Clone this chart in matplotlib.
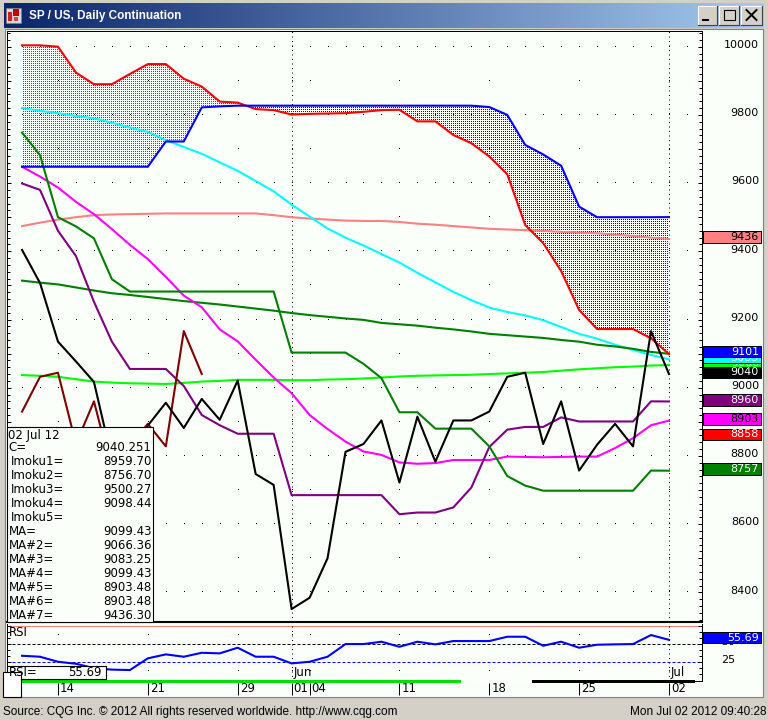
import numpy as np
import matplotlib
matplotlib.use("Agg")
import matplotlib.pyplot as plt
from matplotlib.patches import Rectangle
from matplotlib.ticker import MultipleLocator
import matplotlib.transforms as mtrans

plt.rcParams['font.family'] = ['DejaVu Sans']

# ---------------- data ----------------
# trading-day index: 0 = 14 May 2012 ... 34 = 02 Jul 2012
day_idx = list(range(-2, 35))
week_pos = [0, 5, 10, 13, 14, 19, 24, 29, 34]
week_labels = ["14", "21", "29", "01", "04", "11", "18", "25", "02"]
month_pos = [13, 34]
month_labels = ["Jun", "Jul"]

close = [9404, 9307, 9135, 9077, 9017, 8790, 8770, 8889, 8956, 8882,
         8967, 8906, 9021, 8747, 8715, 8351, 8384, 8500, 8812, 8835,
         8904, 8722, 8915, 8783, 8904, 8904, 8930, 9032, 9044, 8835,
         8960, 8757, 8833, 8894, 8828, 9166, 9040.251]
tenkan = [9599, 9580, 9460, 9386, 9252, 9135, 9055, 9055, 9055, 9005,
          8920, 8890, 8865, 8865, 8865, 8685, 8685, 8685, 8685, 8685,
          8685, 8629, 8634, 8634, 8649, 8707, 8826, 8877, 8885, 8885,
          8913, 8901, 8901, 8901, 8901, 8960, 8959.70]
kijun = [9748, 9682, 9500, 9473, 9438, 9318, 9282, 9282, 9282, 9282,
         9282, 9282, 9282, 9282, 9282, 9103, 9103, 9103, 9103, 9070,
         9028, 8928, 8928, 8880, 8880, 8880, 8828, 8741, 8713, 8698,
         8698, 8698, 8698, 8698, 8698, 8757, 8756.70]
senkou_a = [9648, 9648, 9648, 9648, 9648, 9648, 9648, 9648, 9722, 9722,
            9822, 9825, 9827, 9827, 9827, 9827, 9827, 9827, 9827, 9827,
            9827, 9827, 9827, 9827, 9827, 9827, 9823, 9800, 9712, 9684,
            9651, 9531, 9500, 9500, 9500, 9500, 9500.27]
senkou_b = [10004, 10004, 10000, 9924, 9890, 9890, 9920, 9949, 9949, 9906,
            9883, 9839, 9836, 9817, 9814, 9801, 9803, 9804, 9805, 9809,
            9814, 9815, 9781, 9781, 9741, 9717, 9678, 9626, 9477, 9424,
            9342, 9228, 9172, 9172, 9172, 9145, 9098.44]
ma = [9314, 9308, 9303, 9294, 9285, 9277, 9272, 9266, 9260, 9254,
      9249, 9244, 9238, 9232, 9226, 9219, 9213, 9208, 9203, 9199,
      9190, 9186, 9182, 9176, 9171, 9165, 9158, 9154, 9150, 9146,
      9140, 9135, 9126, 9121, 9114, 9105, 9099.43]
ma2 = [9037, 9035, 9032, 9025, 9018, 9015, 9013, 9012, 9011, 9014,
       9018, 9020, 9023, 9023, 9023, 9022, 9022, 9024, 9025, 9027,
       9030, 9033, 9035, 9036, 9037, 9038, 9040, 9042, 9044, 9046,
       9050, 9054, 9057, 9060, 9062, 9065, 9066.36]
ma3 = [9820, 9812, 9805, 9797, 9790, 9777, 9763, 9750, 9726, 9706,
       9686, 9661, 9636, 9606, 9576, 9537, 9502, 9467, 9440, 9417,
       9392, 9367, 9337, 9309, 9281, 9257, 9235, 9222, 9212, 9198,
       9178, 9158, 9144, 9126, 9111, 9096, 9083.25]
ma5 = [9648, 9619, 9587, 9545, 9509, 9465, 9419, 9377, 9325, 9270,
       9236, 9171, 9136, 9082, 9030, 8984, 8920, 8879, 8842, 8813,
       8803, 8781, 8777, 8779, 8788, 8788, 8788, 8798, 8797, 8796,
       8797, 8798, 8798, 8823, 8852, 8890, 8903.48]
ma7 = [9474, 9484, 9493, 9500, 9506, 9508, 9509, 9510, 9511, 9511,
       9511, 9511, 9511, 9511, 9506, 9500, 9496, 9493, 9490, 9489,
       9489, 9486, 9481, 9478, 9474, 9470, 9466, 9464, 9462, 9460,
       9457, 9455, 9453, 9449, 9445, 9440, 9436.30]
rsi = [33.9, 32.6, 25.7, 23.0, 17.0, 15.0, 14.4, 30.4, 35.8, 32.6,
       38.0, 37.2, 44.9, 32.6, 32.6, 23.5, 25.7, 32.6, 49.9, 49.9,
       53.1, 46.2, 53.1, 49.5, 54.0, 54.0, 54.0, 59.9, 59.9, 47.6,
       53.1, 44.9, 49.0, 49.5, 49.9, 62.2, 55.69]

price_levels = list(range(8400, 10001, 200))
half_levels = list(range(8500, 10000, 200))

box_vals = [9436.30, 9066.36, 9083.25, 9101.0, 9040.251, 8959.70, 8903.48, 8858.0, 8756.70]
box_text = ['9436', '9066', '9083', '9101', '9040', '8960', '8903', '8858', '8757']
box_face = ['#FF8080', '#00FF00', '#00FFFF', '#0000FF', '#000000', '#800080', '#FF00FF', '#FF0000', '#008000']
box_tcol = ['black', 'white', 'white', 'white', 'white', 'white', 'black', 'white', 'white']

legend_names = ['C=', 'Imoku1=', 'Imoku2=', 'Imoku3=', 'Imoku4=', 'Imoku5=',
                'MA=', 'MA#2=', 'MA#3=', 'MA#4=', 'MA#5=', 'MA#6=', 'MA#7=']
legend_vals = ['9040.251', '8959.70', '8756.70', '9500.27', '9098.44', '',
               '9099.43', '9066.36', '9083.25', '9099.43', '8903.48', '8903.48', '9436.30']

# ---------------- figure ----------------
BG = '#FAFFFA'
FS = 8.5     # legend / date text
FA = 8       # right-axis text
fig = plt.figure(figsize=(7.68, 7.2), dpi=100)
fig.patch.set_facecolor('#D4D0C8')


def px_axes(x0, y0, x1, y1, z):
    a = fig.add_axes([x0 / 768, 1 - y1 / 720, (x1 - x0) / 768, (y1 - y0) / 720])
    a.set_zorder(z)
    return a


# ---------- window decoration ----------
deco = px_axes(0, 0, 768, 720, 0)
deco.axis('off')
grad = np.linspace(0, 1, 256)
c0 = np.array([10, 36, 106]) / 255
c1 = np.array([166, 202, 240]) / 255
gimg = (c0[None, :] * (1 - grad[:, None]) + c1[None, :] * grad[:, None])[None, :, :]
deco.imshow(gimg, extent=(4, 764, 28, 3), aspect='auto', interpolation='bilinear', zorder=1)
deco.set_xlim(0, 768)
deco.set_ylim(720, 0)
deco.text(29, 15.5, 'SP / US, Daily Continuation', color='white', fontsize=8.5,
          fontweight='bold', family='Liberation Sans', va='center', ha='left', zorder=3)
# icon
deco.add_patch(Rectangle((6, 8), 15, 15, facecolor='#D8D8D8', edgecolor='#808080', lw=0.5, zorder=2))
deco.add_patch(Rectangle((8, 12), 4, 9, facecolor='#D02020', edgecolor='none', zorder=3))
deco.add_patch(Rectangle((13, 9), 6, 7, facecolor='#C00000', edgecolor='none', zorder=3))
deco.add_patch(Rectangle((14, 17), 4, 4, facecolor='#E04040', edgecolor='none', zorder=3))
# buttons
for bx0, bx1 in [(698, 717), (719, 739), (741, 762)]:
    deco.add_patch(Rectangle((bx0, 6), bx1 - bx0, 19, facecolor='#D4D0C8', edgecolor='none', zorder=2))
    deco.plot([bx0, bx0, bx1], [25, 6, 6], color='white', lw=0.8, zorder=3)
    deco.plot([bx0, bx1, bx1], [25, 25, 6], color='#404040', lw=0.8, zorder=3)
deco.add_patch(Rectangle((702, 18.5), 7, 2, facecolor='black', edgecolor='none', zorder=4))
deco.add_patch(Rectangle((723.5, 9.5), 11, 10, facecolor='none', edgecolor='black', lw=0.8, zorder=4))
deco.add_patch(Rectangle((723.5, 9.5), 11, 1.6, facecolor='black', edgecolor='none', zorder=4))
deco.plot([746.5, 756.5], [10, 20], color='black', lw=1.4, zorder=4)
deco.plot([746.5, 756.5], [20, 10], color='black', lw=1.4, zorder=4)
# content area
deco.add_patch(Rectangle((5, 29), 758, 668, facecolor=BG, edgecolor='#808080', lw=0.8, zorder=1))
deco.text(3, 712, 'Source: CQG Inc. \u00a9 2012 All rights reserved worldwide. http://www.cqg.com',
          fontsize=8.5, family='Liberation Sans', va='center', ha='left')
deco.text(766, 712, 'Mon Jul 02 2012 09:40:28', fontsize=8.5, family='Liberation Sans',
          va='center', ha='right')

# ---------- price pane ----------
XL = (-2.838, 35.838)
YL = (8313.0, 10046.0)
ax = px_axes(7, 31, 702, 622, 2)
ax.set_facecolor(BG)

# Ichimoku cloud, stippled
nx, ny = 695, 591
xs = XL[0] + (np.arange(nx) + 0.5) * (XL[1] - XL[0]) / nx
ys = YL[1] - (np.arange(ny) + 0.5) * (YL[1] - YL[0]) / ny
sa = np.interp(xs, day_idx, senkou_a)
sb = np.interp(xs, day_idx, senkou_b)
inside = (xs >= day_idx[0]) & (xs <= day_idx[-1])
hi = np.maximum(sa, sb)
lo = np.minimum(sa, sb)
band = inside[None, :] & (ys[:, None] <= hi[None, :]) & (ys[:, None] >= lo[None, :])
dots = (np.arange(ny)[:, None] % 2 == 0) & (np.arange(nx)[None, :] % 2 == 0)
img = np.zeros((ny, nx, 4))
img[band & dots & (sb > sa)[None, :]] = (1, 0, 0, 1)
img[band & dots & (sa >= sb)[None, :]] = (0, 0, 1, 1)
ax.imshow(img, extent=(XL[0], XL[1], YL[0], YL[1]), origin='upper',
          interpolation='nearest', aspect='auto', zorder=1)

# dotted grid
gx, gy = np.meshgrid(list(range(-2, 36)), price_levels)
ax.plot(gx.ravel(), gy.ravel(), ',', color='black', zorder=1.5)
gx, gy = np.meshgrid(week_pos, half_levels)
ax.plot(gx.ravel(), gy.ravel(), ',', color='black', zorder=1.5)
for p in month_pos:
    ax.axvline(p, color='black', lw=0.72, ls=(0, (1, 3.5)), zorder=1.5)

LW = 1.5
ax.plot(day_idx, ma7, color='#FF8080', lw=LW, zorder=3)
ax.plot(day_idx, ma3, color='#00FFFF', lw=LW, zorder=3)
ax.plot(day_idx, ma, color='#008000', lw=LW, zorder=3)
ax.plot(day_idx, ma2, color='#00FF00', lw=LW, zorder=3)
ax.plot(day_idx, ma5, color='#FF00FF', lw=LW, zorder=3)
ax.plot(day_idx, tenkan, color='#800080', lw=LW, zorder=3)
ax.plot(day_idx, kijun, color='#008000', lw=LW, zorder=3)
ax.plot(day_idx, senkou_b, color='#FF0000', lw=LW, zorder=3)
ax.plot(day_idx, senkou_a, color='#0000FF', lw=LW, zorder=3)
n_lag = len(close) - 26
ax.plot(day_idx[:n_lag], close[26:], color='#800000', lw=LW, zorder=3)
ax.plot(day_idx, close, color='black', lw=LW, zorder=4)

ax.set_xlim(*XL)
ax.set_ylim(*YL)
ax.set_xticks([])
ax.yaxis.set_major_locator(MultipleLocator(100))
ax.yaxis.set_minor_locator(MultipleLocator(20))
ax.tick_params(axis='y', which='both', direction='in', left=True, right=True,
               labelleft=False, labelright=False, color='black', width=0.72)
ax.tick_params(axis='y', which='major', length=3.2)
ax.tick_params(axis='y', which='minor', length=2.0)
for s in ax.spines.values():
    s.set_color('black')
    s.set_linewidth(0.72)
ax.spines['bottom'].set_linewidth(1.5)

ytr = mtrans.offset_copy(ax.get_yaxis_transform(), fig=fig, x=0, y=1.7, units='dots')
for lv in price_levels:
    ax.text(1.082, lv, f'{lv}', transform=ytr, ha='right', va='center', fontsize=FA, clip_on=False)
for k, (v, t, fc, tc) in enumerate(zip(box_vals, box_text, box_face, box_tcol)):
    ax.add_patch(Rectangle((1.0014, v - 16.9), 0.0842, 33.7, transform=ytr, facecolor=fc,
                           edgecolor='black', lw=0.72, clip_on=False, zorder=10 + 2 * k))
    ax.text(1.082, v, t, transform=ytr, color=tc, ha='right', va='center', fontsize=FA,
            clip_on=False, zorder=11 + 2 * k)

# ---------- RSI pane ----------
ar = px_axes(7, 624, 702, 681, 2)
ar.set_facecolor(BG)
ar.set_xlim(*XL)
ar.set_ylim(-0.55, 77.3)
ar.axhline(75, color='#FF0000', lw=0.72, ls=(0, (1, 1)), zorder=1)
ar.axhline(50, color='black', lw=0.72, ls=(0, (3, 2)), zorder=1)
ar.axhline(25, color='#0000FF', lw=0.72, ls=(0, (3, 2)), zorder=1)
gx, gy = np.meshgrid(week_pos, [12.5, 62.5])
ar.plot(gx.ravel(), gy.ravel(), ',', color='black', zorder=1)
for p in month_pos:
    ar.axvline(p, color='black', lw=0.72, ls=(0, (1, 3.5)), zorder=1)
ar.plot(day_idx, rsi, color='#0000FF', lw=LW, zorder=3)
ar.set_xticks([])
ar.yaxis.set_major_locator(MultipleLocator(25))
ar.yaxis.set_minor_locator(MultipleLocator(25 / 3))
ar.tick_params(axis='y', which='both', direction='in', left=True, right=True,
               labelleft=False, labelright=False, color='black', width=0.72)
ar.tick_params(axis='y', which='major', length=3.2)
ar.tick_params(axis='y', which='minor', length=2.0)
for s in ar.spines.values():
    s.set_color('black')
    s.set_linewidth(0.72)
ar.spines['top'].set_visible(False)
mtr = mtrans.offset_copy(ar.transData, fig=fig, x=2, y=0, units='dots')
for p, lbl in zip(month_pos, month_labels):
    ar.text(p, 11.7, lbl, transform=mtr, ha='left', va='center', fontsize=FS)
rtr = mtrans.offset_copy(ar.get_yaxis_transform(), fig=fig, x=0, y=2, units='dots')
for lv in [25, 50]:
    ar.text(1.0475, lv, f'{lv}', transform=rtr, ha='right', va='center', fontsize=FA, clip_on=False)
ar.add_patch(Rectangle((1.0014, rsi[-1] - 7.5), 0.0842, 15, transform=rtr, facecolor='#0000FF',
                       edgecolor='black', lw=0.72, clip_on=False, zorder=10))
ar.text(1.082, rsi[-1], f'{rsi[-1]:.2f}', transform=rtr, color='white', ha='right',
        va='center', fontsize=FA, clip_on=False, zorder=11)

# ---------- date row ----------
ad = px_axes(7, 682, 702, 696, 2)
ad.set_xlim(*XL)
ad.set_ylim(0, 1)
ad.axis('off')
ad.vlines(week_pos, 0.05, 0.95, color='black', lw=0.72)
dtr = mtrans.offset_copy(ad.transData, fig=fig, x=2, y=0, units='dots')
for p, lbl in zip(week_pos, week_labels):
    ad.text(p, 0.5, lbl, transform=dtr, ha='left', va='center', fontsize=FS)

# ---------- overlays ----------
top = px_axes(0, 0, 768, 720, 5)
top.set_xlim(0, 768)
top.set_ylim(720, 0)
top.axis('off')
top.add_patch(Rectangle((20.6, 679.5), 440.2, 3, facecolor='#00E000', edgecolor='none'))
top.add_patch(Rectangle((460.8, 679.5), 71.2, 3, facecolor='white', edgecolor='none'))
top.add_patch(Rectangle((532, 679.5), 163, 3, facecolor='black', edgecolor='none'))
# legend box
top.add_patch(Rectangle((7, 427), 146, 195, facecolor=BG, edgecolor='black', lw=0.8))
top.text(8.5, 435, '02 Jul 12', fontsize=FS, ha='left', va='center')
row_y = [447.7] + [461.7 + 14 * k for k in range(len(legend_names) - 1)]
for nm, vl, yy in zip(legend_names, legend_vals, row_y):
    xx = 10.7 if nm.startswith('Imoku') else 8.5
    top.text(xx, yy, nm, fontsize=FS, ha='left', va='center')
    if vl:
        top.text(151.5, yy, vl, fontsize=FS, ha='right', va='center')
# RSI label and value box
top.text(8.5, 632, 'RSI', fontsize=FS, ha='left', va='center')
top.add_patch(Rectangle((7, 665.7), 98.7, 13.6, facecolor=BG, edgecolor='black', lw=0.8))
top.text(8.5, 672.5, 'RSI=', fontsize=FS, ha='left', va='center')
top.text(102, 672.5, f'{rsi[-1]:.2f}', fontsize=FS, ha='right', va='center')
top.add_patch(Rectangle((3.3, 671.7), 17.4, 25.6, facecolor='white', edgecolor='black', lw=0.8))

fig.savefig('out.png', dpi=100, facecolor=fig.get_facecolor())
